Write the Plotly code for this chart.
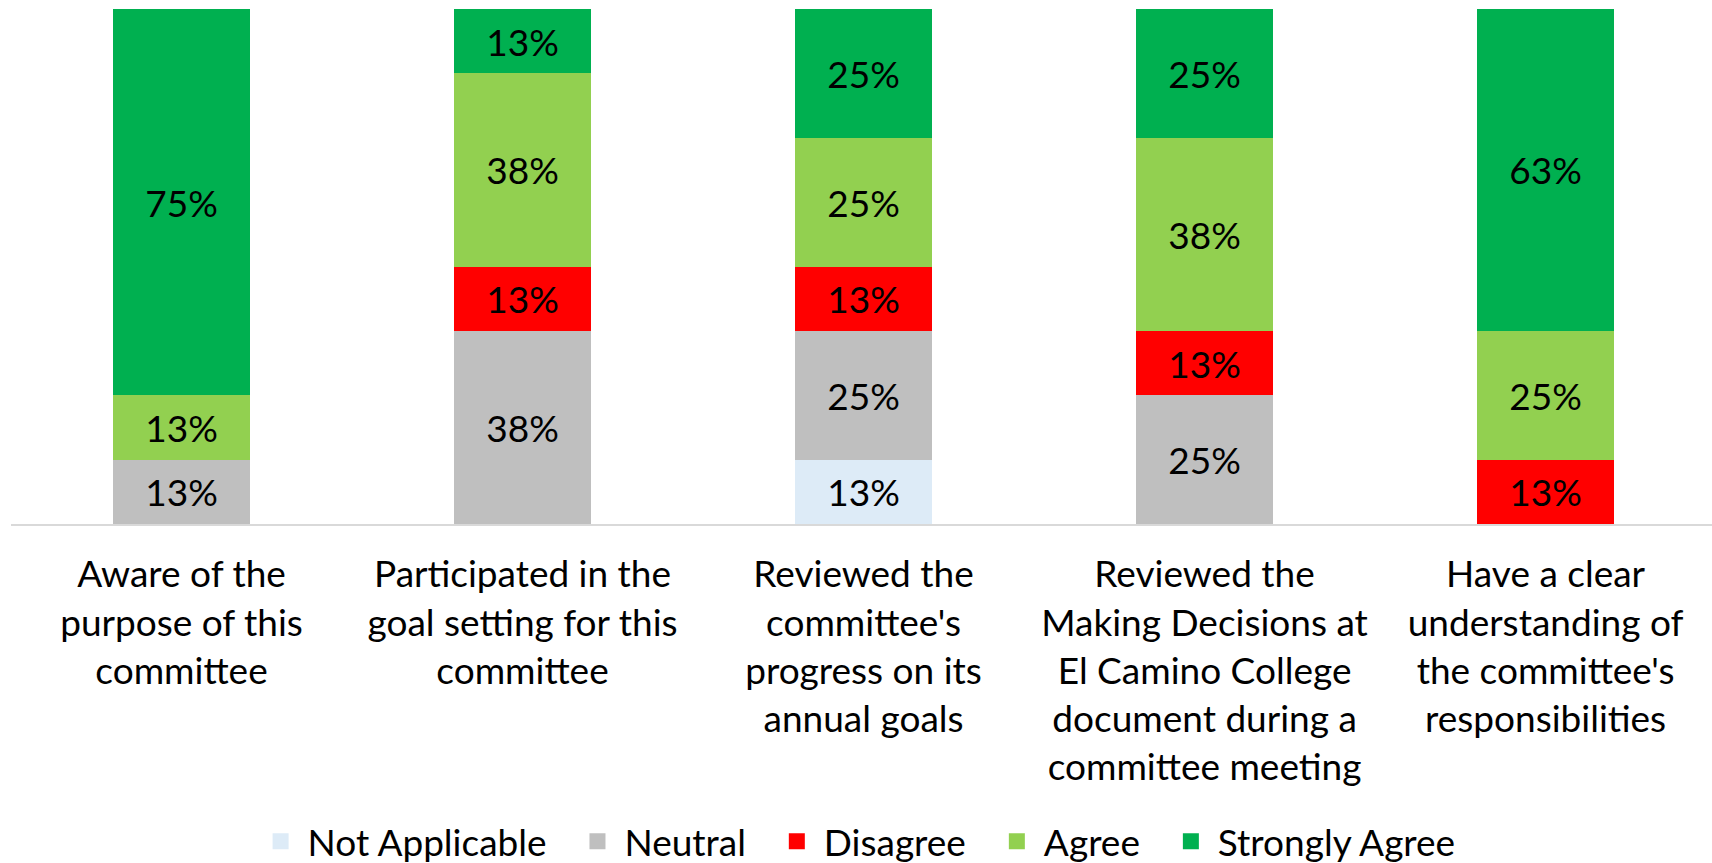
import plotly.graph_objects as go

categories = [
    "Aware of the<br>purpose of this<br>committee",
    "Participated in the<br>goal setting for this<br>committee",
    "Reviewed the<br>committee's<br>progress on its<br>annual goals",
    "Reviewed the<br>Making Decisions at<br>El Camino College<br>document during a<br>committee meeting",
    "Have a clear<br>understanding of<br>the committee's<br>responsibilities",
]
series_names = ["Not Applicable", "Neutral", "Disagree", "Agree", "Strongly Agree"]
not_applicable = [0, 0, 12.5, 0, 0]
neutral = [12.5, 37.5, 25, 25, 0]
disagree = [0, 12.5, 12.5, 12.5, 12.5]
agree = [12.5, 37.5, 25, 37.5, 25]
strongly_agree = [75, 12.5, 25, 25, 62.5]
colors = ["#DDEBF7", "#BFBFBF", "#FF0000", "#92D050", "#00B050"]

FONT = "Lato"
FS = 37

fig = go.Figure()
for name, vals, col in zip(series_names,
                           [not_applicable, neutral, disagree, agree, strongly_agree],
                           colors):
    texts = [f"{int(v + 0.5)}%" if v > 0 else "" for v in vals]
    fig.add_trace(go.Bar(
        x=categories, y=vals, name=name, showlegend=False,
        marker=dict(color=col, line=dict(width=0)),
        text=texts, textposition="inside", insidetextanchor="middle",
        textangle=0, constraintext="none",
        textfont=dict(family=FONT, size=FS, color="black"),
        width=0.4,
    ))

# legend entries (square swatches)
for name, col in zip(series_names, colors):
    fig.add_trace(go.Scatter(
        x=[None], y=[None], mode="markers", name=name + "\u00a0\u00a0",
        marker=dict(symbol="square", size=16, color=col),
        showlegend=True, hoverinfo="skip",
    ))

fig.update_layout(
    barmode="stack",
    width=1712, height=863,
    margin=dict(l=11, r=0, t=9, b=339, autoexpand=False),
    paper_bgcolor="white", plot_bgcolor="white",
    font=dict(family=FONT, size=FS, color="black"),
    showlegend=True,
    legend=dict(orientation="h", x=0.503, xanchor="center", y=-0.617, yanchor="middle",
                traceorder="normal", font=dict(family=FONT, size=FS),
                itemwidth=44),
)
fig.update_xaxes(showline=True, linecolor="#D9D9D9", linewidth=2, showgrid=False,
                 ticks="", tickfont=dict(family=FONT, size=FS, color="black"),
                 ticklabelstandoff=17, range=[-0.5, 4.488])
fig.update_yaxes(range=[0, 100], visible=False, showgrid=False)

fig.write_html("out.html", config={"displayModeBar": False},
               post_script="document.body.style.margin='0';document.body.style.overflow='hidden';")
